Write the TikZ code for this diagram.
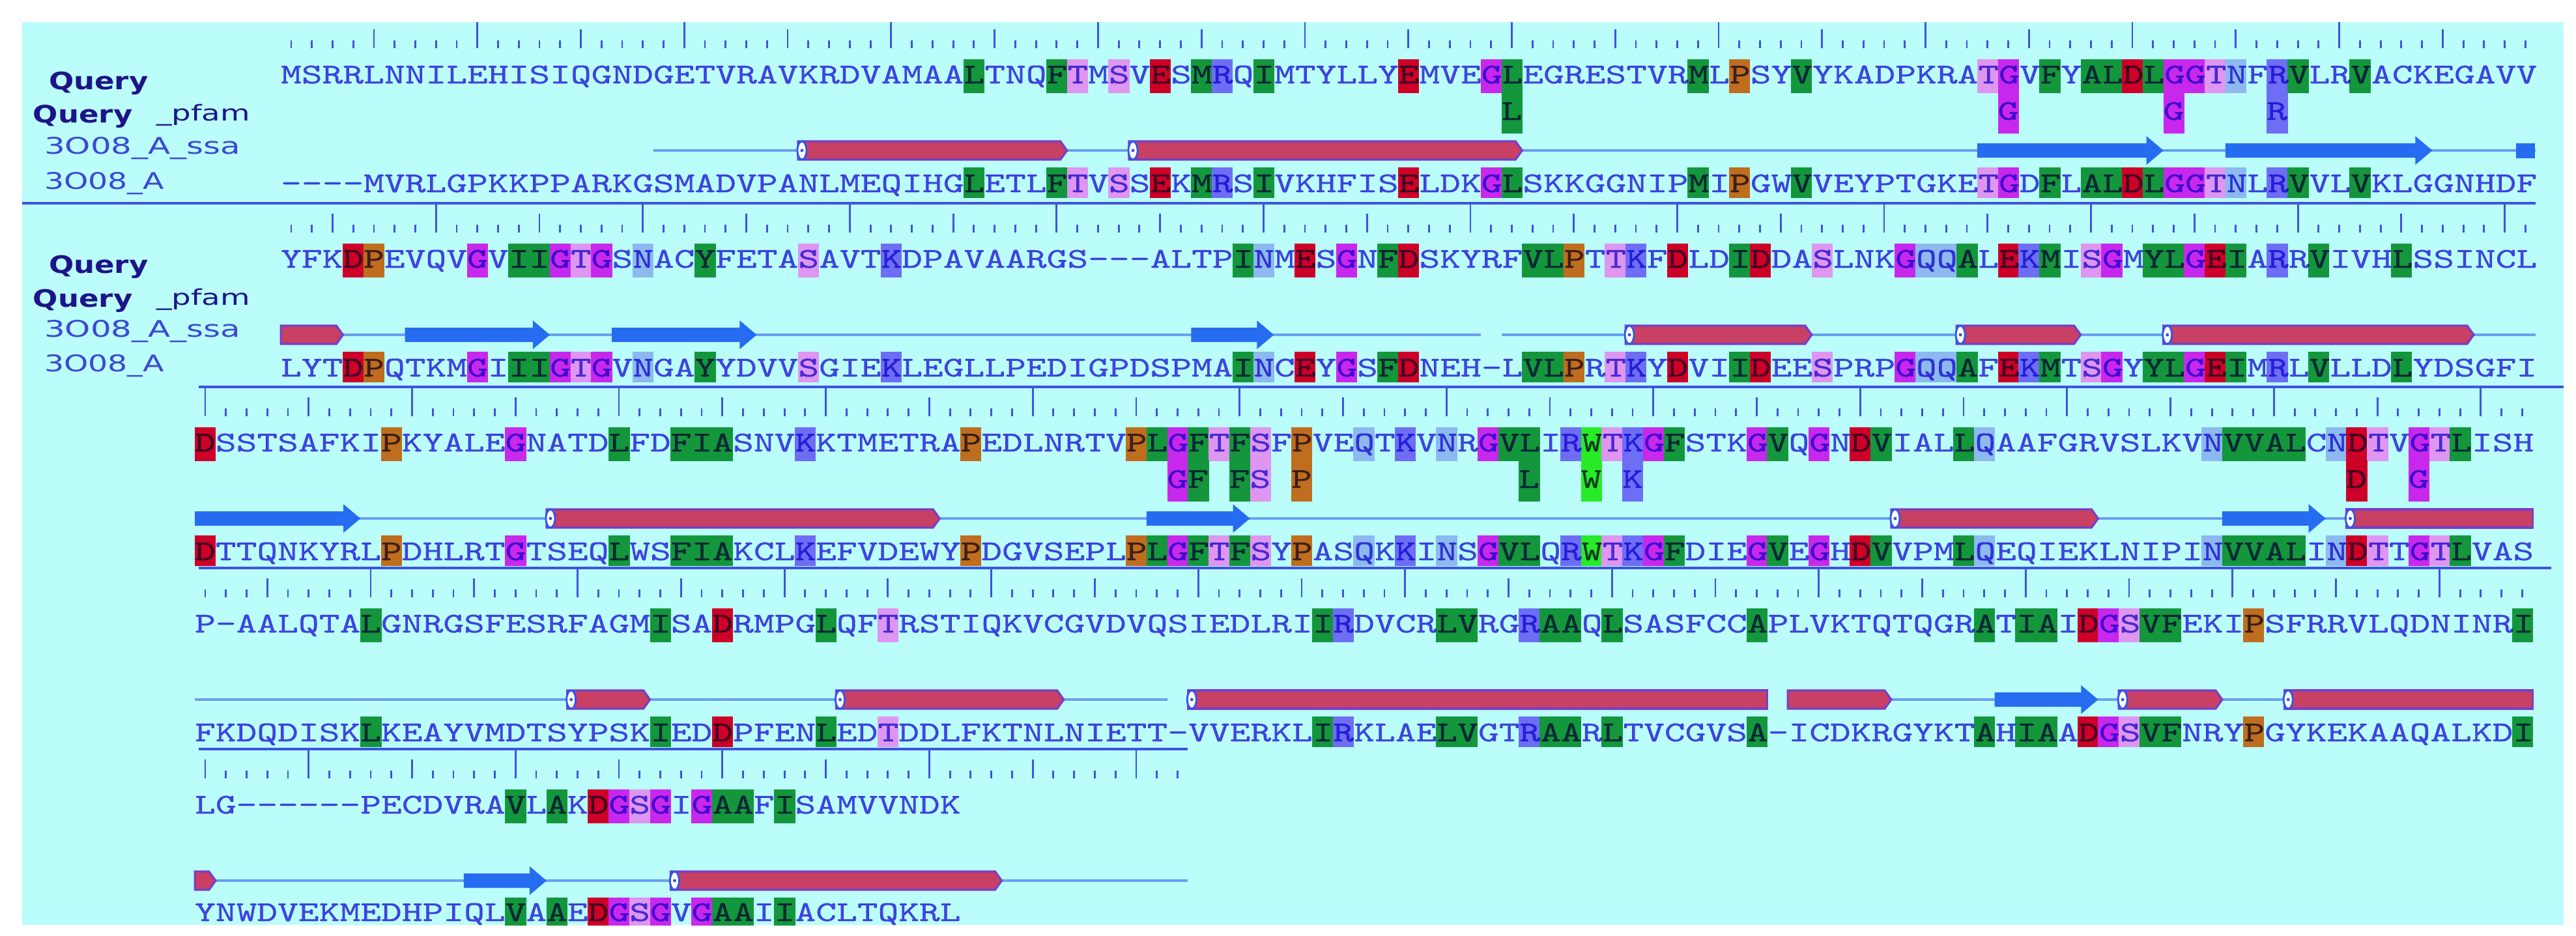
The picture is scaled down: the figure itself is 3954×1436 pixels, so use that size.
\documentclass[tikz,border=0pt]{standalone}
\usepackage{fontspec}
\usepackage{graphicx}
\newfontfamily\seqfam{lmmono10-regular.otf}[FakeStretch=1.3745,FakeBold=0.5]
\newfontfamily\labf{DejaVu Sans}
\newcommand\SQ{\seqfam\fontsize{12.52pt}{14pt}\selectfont}
\newcommand\gp{\mbox{-}}
\newlength\cw
\definecolor{bgc}{RGB}{186,253,251}
\definecolor{seqc}{RGB}{86,70,228}
\definecolor{rul}{RGB}{62,84,222}
\definecolor{ssc}{RGB}{105,160,240}
\definecolor{hxr}{RGB}{200,64,100}
\definecolor{hxe}{RGB}{120,62,200}
\definecolor{capb}{RGB}{50,85,235}
\definecolor{stb}{RGB}{38,108,240}
\definecolor{hg}{RGB}{20,150,60}
\definecolor{hr}{RGB}{205,0,40}
\definecolor{hm}{RGB}{200,40,235}
\definecolor{hk}{RGB}{222,150,240}
\definecolor{hb}{RGB}{110,110,245}
\definecolor{hc}{RGB}{140,185,240}
\definecolor{ho}{RGB}{190,110,30}
\definecolor{hw}{RGB}{40,235,40}
\definecolor{lab}{RGB}{30,20,135}
\definecolor{labb}{RGB}{60,72,212}
\tikzset{
  rtick/.style={draw=rul,line width=0.8pt},
  seprule/.style={draw=rul,line width=1.4pt},
  ssline/.style={draw=ssc,line width=1.1pt},
  hbody/.style={fill=hxr,draw=hxe,line width=0.9pt},
  capst/.style={fill=white,draw=capb,line width=0.8pt},
  seqtxt/.style={inner sep=0pt,outer sep=0pt,text=seqc,font=\SQ},
  seqrow/.style={seqtxt,anchor=base west},
  qlab/.style={inner sep=0pt,outer sep=0pt,anchor=base west,text=lab,font=\labf\bfseries\fontsize{10.5pt}{12pt}\selectfont},
  plab/.style={inner sep=0pt,outer sep=0pt,anchor=base west,text=lab,font=\labf\fontsize{9.5pt}{11pt}\selectfont},
  slab/.style={inner sep=0pt,outer sep=0pt,anchor=base west,text=labb,font=\labf\fontsize{10pt}{12pt}\selectfont}
}
% ruler: x0, Q, N, column of a tall tick
\newcommand\Ruler[4]{%
  \foreach \pp in {1,...,#3}{%
    \pgfmathsetmacro\xm{#1+(\pp-1)*\pitch}%
    \pgfmathtruncatemacro\mm{mod(\pp-#4+100,10)}%
    \ifnum\mm=0 \def\tkh{86}\else\ifnum\mm=5 \def\tkh{70}\else\def\tkh{53}\fi\fi
    \draw[rtick] (\xm,#2-\tkh) -- (\xm,#2-41);
  }}
% highlight boxes in query and hit rows
\newcommand\Hl[3]{%
  \foreach \pp/\cc in {#3}{%
    \pgfmathsetmacro\xa{#1+(\pp-1.5)*\pitch}%
    \pgfmathsetmacro\xb{#1+(\pp-0.5)*\pitch+0.6}%
    \fill[\cc] (\xa,#2-24) rectangle (\xb,#2+28);
    \fill[\cc] (\xa,#2+142) rectangle (\xb,#2+189);
  }}
\newcommand\PfBox[3]{%
  \foreach \pp/\cc/\lx in {#3}{%
    \pgfmathsetmacro\xa{#1+(\pp-1.5)*\pitch}%
    \pgfmathsetmacro\xb{#1+(\pp-0.5)*\pitch+0.6}%
    \fill[\cc] (\xa,#2+27) rectangle (\xb,#2+90);
  }}
\newcommand\PfTxt[3]{%
  \foreach \pp/\cc/\lx in {#3}{%
    \pgfmathsetmacro\xm{#1+(\pp-1)*\pitch}%
    \node[seqtxt,anchor=base] (pf#2-\pp) at (\xm,#2+69) {\lx};
  }}
\newcommand\SLine[4]{%
  \pgfmathsetmacro\xa{#1+(#3-1.5)*\pitch}%
  \pgfmathsetmacro\xb{#1+(#4-0.5)*\pitch}%
  \draw[ssline] (\xa,#2+116) -- (\xb,#2+116);}
\newcommand\Helix[6]{%
  \pgfmathsetmacro\xa{#1+(#3-1.5)*\pitch}%
  \pgfmathsetmacro\xb{#1+(#4-0.5)*\pitch}%
  \pgfmathsetmacro\xc{\xb-10*#6}%
  \filldraw[hbody] (\xa,#2+102) -- (\xc,#2+102) -- (\xb,#2+116) -- (\xc,#2+130) -- (\xa,#2+130) -- cycle;
  \ifnum#5=1
    \filldraw[capst] (\xa+6,#2+116) ellipse [x radius=7,y radius=14];
    \fill[capb] (\xa+6,#2+116) circle [radius=2.5];
  \fi}
\newcommand\Strand[4]{%
  \pgfmathsetmacro\xa{#1+(#3-1.5)*\pitch}%
  \pgfmathsetmacro\xb{#1+(#4-0.5)*\pitch}%
  \pgfmathsetmacro\xc{\xb-26}%
  \fill[stb] (\xa,#2+105) -- (\xc,#2+105) -- (\xc,#2+94) -- (\xb,#2+116) -- (\xc,#2+138) -- (\xc,#2+127) -- (\xa,#2+127) -- cycle;}
\def\XA{447}\def\XB{315}
\def\QA{115}\def\QB{398}\def\QC{680}\def\QD{958}\def\QE{1236}
\begin{document}
\settowidth{\cw}{\SQ M}%
\pgfmathsetmacro\pitch{\cw/0.2845276}%
\begin{tikzpicture}[x=0.01cm,y=-0.01cm]
\useasboundingbox (0,0) rectangle (3954,1436);
\fill[white] (0,0) rectangle (3954,1436);
\fill[bgc] (34,34) rectangle (3935,1420);
\begin{scope}
\clip (34,34) rectangle (3935,1420);
% separators
\draw[seprule] (34,\QB-86) -- (3892,\QB-86);
\draw[seprule] (305,\QC-86) -- (3935,\QC-86);
\draw[seprule] (305,\QD-86) -- (3916,\QD-86);
\draw[seprule] (305,\QE-86) -- (1823,\QE-86);
% rulers
\Ruler{\XA}{\QA}{109}{10}
\Ruler{\XA}{\QB}{109}{8}
\Ruler{\XB}{\QC}{113}{1}
\Ruler{\XB}{\QD}{113}{9}
\Ruler{\XB}{\QE}{48}{6}
% secondary structure
\SLine{\XA}{\QA}{19}{109}
\Helix{\XA}{\QA}{26}{38}{1}{1}
\Helix{\XA}{\QA}{42}{60}{1}{1}
\Strand{\XA}{\QA}{83}{91}
\Strand{\XA}{\QA}{95}{104}
\fill[stb] ({\XA+107.5*\pitch+1},\QA+105) rectangle ({\XA+108.5*\pitch-1},\QA+128);
\SLine{\XA}{\QB}{1}{58}
\SLine{\XA}{\QB}{60}{109}
\Helix{\XA}{\QB}{1}{3}{0}{1}
\Strand{\XA}{\QB}{7}{13}
\Strand{\XA}{\QB}{17}{23}
\Strand{\XA}{\QB}{45}{48}
\Helix{\XA}{\QB}{66}{74}{1}{1}
\Helix{\XA}{\QB}{82}{87}{1}{1}
\Helix{\XA}{\QB}{92}{106}{1}{1}
\SLine{\XB}{\QC}{1}{113}
\Strand{\XB}{\QC}{1}{8}
\Helix{\XB}{\QC}{18}{36}{1}{1}
\Strand{\XB}{\QC}{47}{51}
\Helix{\XB}{\QC}{83}{92}{1}{1}
\Strand{\XB}{\QC}{99}{103}
\Helix{\XB}{\QC}{105}{113}{1}{0}
\SLine{\XB}{\QD}{1}{47}
\SLine{\XB}{\QD}{49}{76}
\SLine{\XB}{\QD}{78}{113}
\Helix{\XB}{\QD}{19}{22}{1}{1}
\Helix{\XB}{\QD}{32}{42}{1}{1}
\Helix{\XB}{\QD}{49}{76}{1}{0}
\Helix{\XB}{\QD}{78}{82}{0}{1}
\Strand{\XB}{\QD}{88}{92}
\Helix{\XB}{\QD}{94}{98}{1}{1}
\Helix{\XB}{\QD}{102}{113}{1}{0}
\SLine{\XB}{\QE}{1}{48}
\Helix{\XB}{\QE}{1}{1}{0}{1}
\Strand{\XB}{\QE}{14}{17}
\Helix{\XB}{\QE}{24}{39}{1}{1}
% highlight boxes
\Hl{\XA}{\QA}{34/hg,38/hg,39/hk,41/hk,43/hr,45/hg,46/hb,48/hg,55/hr,59/hm,60/hg,69/hg,71/ho,74/hg,83/hk,84/hm,86/hg,88/hg,89/hg,90/hr,91/hg,92/hm,93/hm,94/hk,95/hc,97/hb,98/hg,101/hg}
\PfBox{\XA}{\QA}{60/hg/L,84/hm/G,92/hm/G,97/hb/R}
\Hl{\XA}{\QB}{4/hr,5/ho,10/hm,12/hg,13/hg,14/hm,15/hk,16/hm,18/hc,21/hg,26/hk,30/hb,47/hg,48/hc,50/hr,52/hm,54/hg,55/hr,61/hg,62/hg,63/ho,65/hk,66/hb,68/hr,71/hg,72/hr,75/hk,79/hm,80/hc,81/hc,82/hg,84/hr,85/hb,86/hg,88/hk,89/hm,91/hg,92/hg,93/hm,94/hr,95/hg,97/hb,99/hg,103/hg}
\Hl{\XB}{\QC}{1/hr,10/ho,16/hm,21/hg,24/hg,25/hg,26/hg,30/hb,38/ho,46/ho,47/hg,48/hm,49/hg,50/hk,51/hg,52/hk,54/ho,57/hc,59/hb,61/hc,63/hm,64/hg,65/hg,67/hb,68/hw,69/hk,70/hb,71/hm,72/hg,76/hm,77/hg,79/hm,81/hr,82/hg,86/hg,87/hc,98/hc,99/hg,100/hg,101/hg,102/hg,104/hc,105/hr,106/hk,108/hm,109/hk,110/hg}
\PfBox{\XB}{\QC}{48/hm/G,49/hg/F,51/hg/F,52/hk/S,54/ho/P,65/hg/L,68/hw/W,70/hb/K,105/hr/D,108/hm/G}
\Hl{\XB}{\QD}{9/hg,23/hg,26/hr,31/hg,34/hk,55/hg,56/hb,61/hg,62/hg,65/hb,66/hg,67/hg,69/hg,76/hg,87/hg,89/hg,90/hg,92/hr,93/hm,94/hk,95/hg,96/hg,100/ho,113/hg}
\Hl{\XB}{\QE}{16/hg,18/hg,20/hr,21/hm,22/hk,23/hm,25/hm,26/hg,27/hg,29/hg}
% sequences
\begin{scope}[blend mode=multiply]
\node[seqrow] (q1) at ({\XA-\pitch/2},\QA+13) {MSRRLNNILEHISIQGNDGETVRAVKRDVAMAALTNQFTMSVESMRQIMTYLLYEMVEGLEGRESTVRMLPSYVYKADPKRATGVFYALDLGGTNFRVLRVACKEGAVV};
\node[seqrow] (h1) at ({\XA-\pitch/2},\QA+180) {\gp\gp\gp\gp MVRLGPKKPPARKGSMADVPANLMEQIHGLETLFTVSSEKMRSIVKHFISELDKGLSKKGGNIPMIPGWVVEYPTGKETGDFLALDLGGTNLRVVLVKLGGNHDF};
\PfTxt{\XA}{\QA}{60/hg/L,84/hm/G,92/hm/G,97/hb/R}
\node[seqrow] (q2) at ({\XA-\pitch/2},\QB+13) {YFKDPEVQVGVIIGTGSNACYFETASAVTKDPAVAARGS\gp\gp\gp ALTPINMESGNFDSKYRFVLPTTKFDLDIDDASLNKGQQALEKMISGMYLGEIARRVIVHLSSINCL};
\node[seqrow] (h2) at ({\XA-\pitch/2},\QB+180) {LYTDPQTKMGIIIGTGVNGAYYDVVSGIEKLEGLLPEDIGPDSPMAINCEYGSFDNEH\gp LVLPRTKYDVIIDEESPRPGQQAFEKMTSGYYLGEIMRLVLLDLYDSGFI};
\node[seqrow] (q3) at ({\XB-\pitch/2},\QC+13) {DSSTSAFKIPKYALEGNATDLFDFIASNVKKTMETRAPEDLNRTVPLGFTFSFPVEQTKVNRGVLIRWTKGFSTKGVQGNDVIALLQAAFGRVSLKVNVVALCNDTVGTLISH};
\node[seqrow] (h3) at ({\XB-\pitch/2},\QC+180) {DTTQNKYRLPDHLRTGTSEQLWSFIAKCLKEFVDEWYPDGVSEPLPLGFTFSYPASQKKINSGVLQRWTKGFDIEGVEGHDVVPMLQEQIEKLNIPINVVALINDTTGTLVAS};
\PfTxt{\XB}{\QC}{48/hm/G,49/hg/F,51/hg/F,52/hk/S,54/ho/P,65/hg/L,68/hw/W,70/hb/K,105/hr/D,108/hm/G}
\node[seqrow] (q4) at ({\XB-\pitch/2},\QD+13) {P\gp AALQTALGNRGSFESRFAGMISADRMPGLQFTRSTIQKVCGVDVQSIEDLRIIRDVCRLVRGRAAQLSASFCCAPLVKTQTQGRATIAIDGSVFEKIPSFRRVLQDNINRI};
\node[seqrow] (h4) at ({\XB-\pitch/2},\QD+180) {FKDQDISKLKEAYVMDTSYPSKIEDDPFENLEDTDDLFKTNLNIETT\gp VVERKLIRKLAELVGTRAARLTVCGVSA\gp ICDKRGYKTAHIAADGSVFNRYPGYKEKAAQALKDI};
\node[seqrow] (q5) at ({\XB-\pitch/2},\QE+13) {LG\gp\gp\gp\gp\gp\gp PECDVRAVLAKDGSGIGAAFISAMVVNDK};
\node[seqrow] (h5) at ({\XB-\pitch/2},\QE+178) {YNWDVEKMEDHPIQLVAAEDGSGVGAAIIACLTQKRL};
\end{scope}
% labels
\node[qlab] (lq1) at (75,\QA+22) {\scalebox{1.22}[1]{Query}};
\node[qlab] (lpq1) at (51,\QA+73) {\scalebox{1.22}[1]{Query}};
\node[plab] (lp1) at (240,\QA+70) {\scalebox{1.4}[1]{\_pfam}};
\node[slab] (ls1) at (68,\QA+121) {\scalebox{1.42}[1]{3O08\_A\_ssa}};
\node[slab] (lh1) at (68,\QA+175) {\scalebox{1.35}[1]{3O08\_A}};
\node[qlab] (lq2) at (75,\QB+21) {\scalebox{1.22}[1]{Query}};
\node[qlab] (lpq2) at (51,\QB+73) {\scalebox{1.22}[1]{Query}};
\node[plab] (lp2) at (240,\QB+70) {\scalebox{1.4}[1]{\_pfam}};
\node[slab] (ls2) at (68,\QB+119) {\scalebox{1.42}[1]{3O08\_A\_ssa}};
\node[slab] (lh2) at (68,\QB+172) {\scalebox{1.35}[1]{3O08\_A}};
\end{scope}
\end{tikzpicture}
\end{document}
